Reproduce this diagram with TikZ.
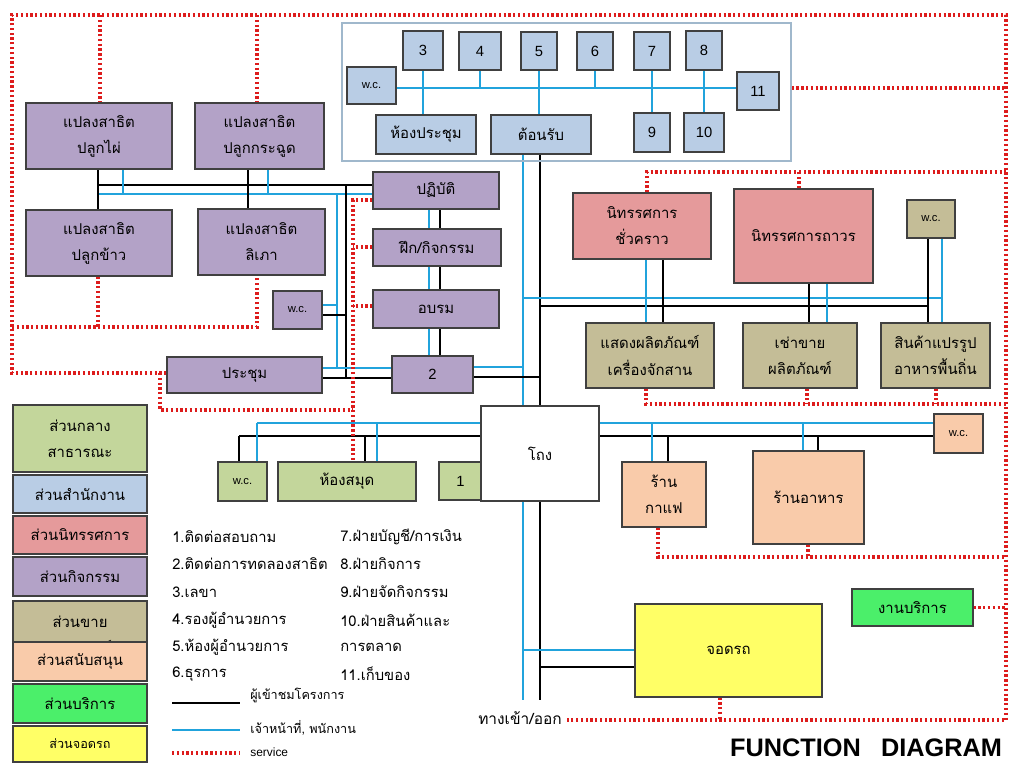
\documentclass[tikz,border=0pt]{standalone}
\usepackage{fontspec}
\setmainfont{Liberation Sans}
\newfontfamily\thai[Script=Thai]{Loma}
\usetikzlibrary{calc}
\pgfdeclarelayer{bg}
\pgfsetlayers{bg,main}
\definecolor{offc}{HTML}{B9CDE5}
\definecolor{actc}{HTML}{B3A2C7}
\definecolor{exhc}{HTML}{E59A9B}
\definecolor{salc}{HTML}{C4BD97}
\definecolor{supc}{HTML}{F9CBAA}
\definecolor{pubc}{HTML}{C3D69B}
\definecolor{srvc}{HTML}{4BEF6A}
\definecolor{prkc}{HTML}{FFFF66}
\definecolor{bord}{HTML}{404040}
\definecolor{lblue}{HTML}{21A3DC}
\definecolor{sred}{HTML}{DD1C1C}
\definecolor{framec}{HTML}{A0B8CC}
\newcommand\bx[7]{\node[#2, minimum width={(#5-#3)*0.025cm}, minimum height={(#6-#4)*0.025cm}] (#1) at ({(#3+#5)/2},{(#4+#6)/2}) {#7};}
\tikzset{
  bxs/.style={draw=bord, line width=0.9pt, inner sep=0pt, align=center, font=\thai\fontsize{10.6}{18.5}\selectfont},
  off/.style={bxs, fill=offc},
  act/.style={bxs, fill=actc},
  exh/.style={bxs, fill=exhc},
  sal/.style={bxs, fill=salc},
  sup/.style={bxs, fill=supc},
  pub/.style={bxs, fill=pubc},
  srvst/.style={bxs, fill=srvc},
  prk/.style={bxs, fill=prkc},
  hallst/.style={bxs, fill=white},
  frame/.style={draw=framec, line width=1pt, inner sep=0pt},
  num/.style={font=\fontsize{10.5}{12}\selectfont},
  wcf/.style={font=\fontsize{8}{10}\selectfont},
  bl/.style={draw=lblue, line width=1.5pt},
  bk/.style={draw=black, line width=1.5pt},
  sv/.style={draw=sred, line width=2.2pt, dash pattern=on 1.6pt off 1.8pt},
  lst/.style={anchor=west, inner sep=0pt, font=\thai\fontsize{10.5}{12}\selectfont},
}
\begin{document}
\begin{tikzpicture}[x=0.025cm, y=-0.025cm]
\useasboundingbox (0,0) rectangle (1016,764);
% office
\bx{ofr}{frame}{342}{23}{791}{161}{}
\bx{b3}{off,num}{403}{31}{443}{70}{3}
\bx{b4}{off,num}{459}{32}{501}{70}{4}
\bx{b5}{off,num}{521}{32}{557}{70}{5}
\bx{b6}{off,num}{577}{32}{613}{70}{6}
\bx{b7}{off,num}{634}{32}{670}{70}{7}
\bx{b8}{off,num}{686}{31}{722}{70}{8}
\bx{b11}{off,num}{737}{72}{779}{110}{11}
\bx{b9}{off,num}{634}{113}{670}{152}{9}
\bx{b10}{off,num}{684}{113}{724}{152}{10}
\bx{wco}{off,wcf}{347}{67}{396}{104}{w.c.}
\bx{hp}{off}{376}{115}{476}{154}{ห้องประชุม}
\bx{tr}{off}{491}{115}{591}{154}{ต้อนรับ}
% activity
\bx{pl1}{act}{26}{103}{172}{169}{แปลงสาธิต\\ปลูกไผ่}
\bx{pl2}{act}{195}{103}{324}{169}{แปลงสาธิต\\ปลูกกระฉูด}
\bx{pl3}{act}{26}{210}{172}{276}{แปลงสาธิต\\ปลูกข้าว}
\bx{pl4}{act}{198}{209}{325}{275}{แปลงสาธิต\\ลิเภา}
\bx{wcp}{act,wcf}{273}{291}{322}{329}{w.c.}
\bx{pc}{act}{167}{357}{322}{393}{ประชุม}
\bx{pt}{act}{373}{172}{499}{209}{ปฏิบัติ}
\bx{fk}{act}{373}{229}{501}{266}{ฝึก/กิจกรรม}
\bx{ob}{act}{373}{290}{499}{328}{อบรม}
\bx{b2}{act,num}{392}{356}{473}{393}{2}
% exhibition and sales
\bx{ex1}{exh}{573}{193}{711}{259}{นิทรรศการ\\ชั่วคราว}
\bx{ex2}{exh}{734}{189}{873}{283}{นิทรรศการถาวร}
\bx{s1}{sal}{586}{323}{714}{388}{แสดงผลิตภัณฑ์\\เครื่องจักสาน}
\bx{s2}{sal}{743}{323}{857}{388}{เช่าขาย\\ผลิตภัณฑ์}
\bx{s3}{sal}{881}{323}{990}{388}{สินค้าแปรรูป\\อาหารพื้นถิ่น}
\bx{wcs}{sal,wcf}{907}{200}{955}{238}{w.c.}
% support
\bx{cf}{sup}{622}{462}{706}{527}{ร้าน\\กาแฟ}
\bx{rs}{sup}{753}{451}{864}{544}{ร้านอาหาร}
\bx{wcu}{sup,wcf}{934}{414}{983}{453}{w.c.}
% public
\bx{wcg}{pub,wcf}{218}{462}{267}{501}{w.c.}
\bx{lib}{pub}{278}{462}{416}{501}{ห้องสมุด}
\bx{b1}{pub,num}{439}{462}{482}{500}{1}
\bx{hall}{hallst}{481}{406}{599}{501}{โถง}
\bx{srv}{srvst}{852}{589}{973}{626}{งานบริการ}
\bx{park}{prk}{635}{604}{822}{697}{จอดรถ}
% legend boxes
\bx{lg1}{pub}{13}{405}{147}{472}{ส่วนกลาง\\สาธารณะ}
\bx{lg2}{off}{13}{475}{147}{513}{ส่วนสำนักงาน}
\bx{lg3}{exh}{13}{516}{147}{554}{ส่วนนิทรรศการ}
\bx{lg4}{act}{13}{557}{147}{596}{ส่วนกิจกรรม}
\bx{lg5}{sal}{13}{601}{147}{668}{ส่วนขาย\\ผลิตภัณฑ์}
\bx{lg6}{sup}{13}{642}{147}{681}{ส่วนสนับสนุน}
\bx{lg7}{srvst}{13}{684}{147}{723}{ส่วนบริการ}
\bx{lg8}{prk,font=\thai\fontsize{9}{10}\selectfont}{13}{726}{147}{762}{ส่วนจอดรถ}
% numbered list
\node[lst] (t1) at (172,537) {1.ติดต่อสอบถาม};
\node[lst] (t2) at (172,564) {2.ติดต่อการทดลองสาธิต};
\node[lst] (t3) at (172,592) {3.เลขา};
\node[lst] (t4) at (172,620) {4.รองผู้อำนวยการ};
\node[lst] (t5) at (172,647) {5.ห้องผู้อำนวยการ};
\node[lst] (t6) at (172,674) {6.ธุรการ};
\node[lst] (t7) at (340,537) {7.ฝ่ายบัญชี/การเงิน};
\node[lst] (t8) at (340,564) {8.ฝ่ายกิจการ};
\node[lst] (t9) at (340,592) {9.ฝ่ายจัดกิจกรรม};
\node[lst] (t10) at (340,620) {10.ฝ่ายสินค้าและ};
\node[lst] (t11) at (340,647) {การตลาด};
\node[lst] (t12) at (340,674) {11.เก็บของ};
% line legend
\coordinate (k1) at (172,703); \coordinate (k2) at (240,703);
\coordinate (c1) at (172,730); \coordinate (c2) at (240,730);
\coordinate (r1) at (172,753); \coordinate (r2) at (240,753);
\draw[bk] (k1) -- (k2);
\draw[bl] (c1) -- (c2);
\draw[sv] (r1) -- (r2);
\node[lst, font=\thai\fontsize{9}{10}\selectfont] (lk) at (250,695) {ผู้เข้าชมโครงการ};
\node[lst, font=\thai\fontsize{9}{10}\selectfont] (lc) at (250,728) {เจ้าหน้าที่, พนักงาน};
\node[lst, font=\fontsize{8.5}{10}\selectfont] (lr) at (250,752) {service};
\node[font=\thai\fontsize{11}{12}\selectfont, inner sep=0pt] (ent) at (520,718) {ทางเข้า/ออก};
\node[font=\bfseries\fontsize{18}{20}\selectfont, inner sep=0pt] (title) at (866,748) {FUNCTION\hspace{0.8em}DIAGRAM};
\coordinate (tB) at (523,700); \coordinate (tK) at (540,700);
\begin{pgfonlayer}{bg}
% office
\draw[bl] (wco.east |- 0,88) -- (b11.west |- 0,88);
\draw[bl] (b3.south) -- (b3.south |- hp.north);
\draw[bl] (b4.south) -- (b4.south |- 0,88);
\draw[bl] (b5.south) -- (b5.south |- tr.north);
\draw[bl] (b6.south) -- (b6.south |- 0,88);
\draw[bl] (b7.south) -- (b7.south |- b9.north);
\draw[bl] (b8.south) -- (b8.south |- b10.north);
% trunk
\draw[bl] (tr.south -| tB) -- (tB);
\draw[bk] (tr.south -| tK) -- (tK);
% left network
\draw[bk] (98,185) -- (pt.west |- 0,185);
\draw[bl] (98,194) -- (pt.west |- 0,194);
\draw[bk] (pl1.south -| 98,0) -- (pl3.north -| 98,0);
\draw[bk] (pl2.south -| 248,0) -- (pl4.north -| 248,0);
\draw[bl] (pl1.south -| 123,0) -- (123,194);
\draw[bl] (pl2.south -| 268,0) -- (268,194);
\draw[bk] (346,185) -- (346,378);
\draw[bl] (337,194) -- (337,368);
\draw[bl] (wcp.east |- 0,305) -- (337,305);
\draw[bk] (wcp.east |- 0,315) -- (346,315);
\draw[bl] (pc.east |- 0,368) -- (b2.west |- 0,368);
\draw[bk] (pc.east |- 0,378) -- (b2.west |- 0,378);
\draw[bl] (pt.south -| 429,0) -- (b2.north -| 429,0);
\draw[bk] (pt.south -| 440,0) -- (b2.north -| 440,0);
\draw[bl] (b2.east |- 0,367) -- (523,367);
\draw[bk] (b2.east |- 0,377) -- (540,377);
% exhibition / sales
\draw[bl] (523,298) -- (942,298);
\draw[bk] (540,306) -- (928,306);
\draw[bl] (ex1.south -| 646,0) -- (s1.north -| 646,0);
\draw[bk] (ex1.south -| 663,0) -- (s1.north -| 663,0);
\draw[bk, line width=1pt] (ex2.south -| 809,0) -- (s2.north -| 809,0);
\draw[bl] (ex2.south -| 827,0) -- (s2.north -| 827,0);
\draw[bk] (wcs.south -| 928,0) -- (s3.north -| 928,0);
\draw[bl] (wcs.south -| 942,0) -- (s3.north -| 942,0);
% lower network
\draw[bl] (257,423) -- (wcu.west |- 0,423);
\draw[bk] (239,436) -- (wcu.west |- 0,436);
\draw[bk] (239,436) -- (wcg.north -| 239,0);
\draw[bl] (257,423) -- (wcg.north -| 257,0);
\draw[bk] (365,436) -- (lib.north -| 365,0);
\draw[bl] (377,423) -- (lib.north -| 377,0);
\draw[bl] (652,423) -- (cf.north -| 652,0);
\draw[bk] (668,436) -- (cf.north -| 668,0);
\draw[bl] (803,423) -- (rs.north -| 803,0);
\draw[bk] (818,436) -- (rs.north -| 818,0);
\draw[bl] (523,650) -- (park.west |- 0,650);
\draw[bk] (540,667) -- (park.west |- 0,667);
% service
\draw[sv] (pc.west |- 0,373) -- (12,373) -- (12,15) -- (1006,15) -- (1006,720) -- (567,720);
\draw[sv] (100,15) -- (pl1.north -| 100,0);
\draw[sv] (257,15) -- (pl2.north -| 257,0);
\draw[sv] (pl3.south -| 98,0) -- (98,327);
\draw[sv] (12,327) -- (257,327) -- (pl4.south -| 257,0);
\draw[sv] (160,373) -- (160,410) -- (353,410);
\draw[sv] (pt.west |- 0,200) -- (353,200) -- (lib.north -| 353,0);
\draw[sv] (fk.west |- 0,247) -- (353,247);
\draw[sv] (ob.west |- 0,306) -- (353,306);
\draw[sv] (ofr.east |- 0,88) -- (1006,88);
\draw[sv] (ex1.north -| 647,0) -- (647,172) -- (1006,172);
\draw[sv] (ex2.north -| 799,0) -- (799,172);
\draw[sv] (s1.south -| 646,0) -- (646,404) -- (1006,404);
\draw[sv] (s2.south -| 807,0) -- (807,404);
\draw[sv] (s3.south -| 936,0) -- (936,404);
\draw[sv] (cf.south -| 658,0) -- (658,557) -- (1006,557);
\draw[sv] (rs.south -| 808,0) -- (808,557);
\draw[sv] (srv.east) -- (srv.east -| 1006,0);
\draw[sv] (park.south -| 720,0) -- (720,720);
\end{pgfonlayer}
\end{tikzpicture}
\end{document}
